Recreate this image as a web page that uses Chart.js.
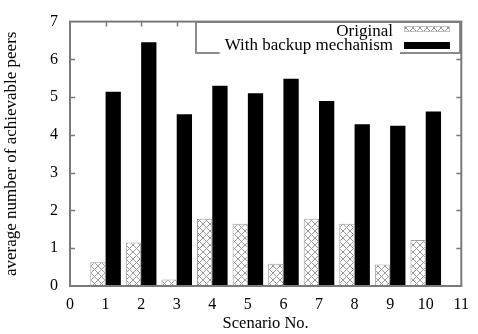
<!DOCTYPE html>
<html>
<head>
<meta charset="utf-8">
<script src="https://cdn.jsdelivr.net/npm/chart.js@4.4.1/dist/chart.umd.min.js"></script>
<style>
html,body{margin:0;padding:0;background:#fff;}
#wrap{width:478px;height:334px;position:relative;}
</style>
</head>
<body>
<div id="wrap"><canvas id="c" width="478" height="334"></canvas></div>
<script>
const scenarios = [1, 2, 3, 4, 5, 6, 7, 8, 9, 10];
const originalPeers = [0.63, 1.15, 0.17, 1.78, 1.65, 0.59, 1.78, 1.65, 0.57, 1.22];
const backupPeers = [5.14, 6.45, 4.55, 5.30, 5.10, 5.49, 4.90, 4.28, 4.24, 4.62];
const seriesNames = ['Original', 'With backup mechanism'];
const xTitle = 'Scenario No.';
const yTitle = 'average number of achievable peers';

function makePattern() {
  const n = 7;
  const p = document.createElement('canvas');
  p.width = n; p.height = n;
  const g = p.getContext('2d');
  g.fillStyle = '#fff'; g.fillRect(0, 0, n, n);
  g.strokeStyle = '#999'; g.lineWidth = 1;
  g.beginPath();
  g.moveTo(0, 0); g.lineTo(n, n);
  g.moveTo(n, 0); g.lineTo(0, n);
  g.stroke();
  return document.getElementById('c').getContext('2d').createPattern(p, 'repeat');
}
const hatch = makePattern();

const FONT = "'Liberation Serif', 'Times New Roman', serif";

const framePlugin = {
  id: 'frame',
  beforeDatasetsDraw(chart) {
    const {ctx, chartArea: a, scales: {x, y}} = chart;
    ctx.save();
    ctx.strokeStyle = '#7a7a7a';
    ctx.lineWidth = 1.5;
    ctx.beginPath();
    for (let v = 1; v < 11; v++) {
      const px = Math.round(x.getPixelForValue(v)) + 0.5;
      ctx.moveTo(px, a.top); ctx.lineTo(px, a.top + 5);
      ctx.moveTo(px, a.bottom); ctx.lineTo(px, a.bottom - 5);
    }
    for (let v = 1; v < 7; v++) {
      const py = Math.round(y.getPixelForValue(v)) + 0.5;
      ctx.moveTo(a.left, py); ctx.lineTo(a.left + 5, py);
      ctx.moveTo(a.right, py); ctx.lineTo(a.right - 5, py);
    }
    ctx.stroke();
    ctx.restore();
  },
  afterDatasetsDraw(chart) {
    const {ctx, chartArea: a} = chart;
    ctx.save();
    const lx = 196, ly = 22, lw = 264, lh = 31;
    ctx.fillStyle = '#fff';
    ctx.fillRect(lx, ly, lw, lh);
    ctx.strokeStyle = '#8a8a8a';
    ctx.lineWidth = 2;
    ctx.strokeRect(lx, ly, lw, lh);
    ctx.font = '17px ' + FONT;
    ctx.textAlign = 'right';
    ctx.textBaseline = 'alphabetic';
    const ds = chart.data.datasets;
    const w2 = ctx.measureText(ds[1].label).width;
    ctx.fillStyle = '#fff';
    ctx.fillRect(393 - w2 - 5, 39, w2 + 12, 17);
    ctx.fillStyle = '#000';
    ctx.fillText(ds[0].label, 393, 35.5);
    ctx.fillText(ds[1].label, 393, 50);
    ctx.fillStyle = ds[0].backgroundColor;
    ctx.fillRect(404, 26, 46, 6);
    ctx.strokeStyle = '#c0c0c0'; ctx.lineWidth = 1;
    ctx.strokeRect(404.5, 26.5, 45, 5);
    ctx.fillStyle = ds[1].backgroundColor;
    ctx.fillRect(404, 42, 46, 7);
    ctx.strokeStyle = '#7a7a7a';
    ctx.lineWidth = 2;
    ctx.strokeRect(a.left, a.top, a.right - a.left, a.bottom - a.top);
    ctx.restore();
  }
};

new Chart(document.getElementById('c'), {
  type: 'bar',
  data: {
    datasets: [
      {
        label: seriesNames[0],
        data: scenarios.map((s, i) => ({x: s, y: originalPeers[i]})),
        backgroundColor: hatch,
        borderColor: '#a0a0a0',
        borderWidth: 1,
        categoryPercentage: 0.86,
        barPercentage: 1.0
      },
      {
        label: seriesNames[1],
        data: scenarios.map((s, i) => ({x: s, y: backupPeers[i]})),
        backgroundColor: '#000',
        borderWidth: 0,
        categoryPercentage: 0.86,
        barPercentage: 1.0
      }
    ]
  },
  options: {
    responsive: false,
    animation: false,
    devicePixelRatio: 1,
    layout: {padding: {top: 16, right: 11, left: 0, bottom: 0}},
    plugins: {legend: {display: false}, tooltip: {enabled: false}},
    scales: {
      x: {
        type: 'linear',
        min: 0, max: 11,
        offset: false,
        afterFit(s) { s.height = 48; },
        ticks: {stepSize: 1, color: '#000', padding: 9, font: {family: FONT, size: 16}, maxRotation: 0},
        grid: {display: false, drawTicks: false},
        border: {display: false},
        title: {display: true, text: xTitle, color: '#000', font: {family: FONT, size: 16.5}, padding: {top: 0, bottom: 0}}
      },
      y: {
        min: 0, max: 7,
        afterFit(s) { s.width = 70; },
        ticks: {stepSize: 1, color: '#000', padding: 12, font: {family: FONT, size: 16}},
        grid: {display: false, drawTicks: false},
        border: {display: false},
        title: {display: true, text: yTitle, color: '#000', font: {family: FONT, size: 17}, padding: {top: 1, bottom: 0}}
      }
    }
  },
  plugins: [framePlugin]
});
</script>
</body>
</html>
